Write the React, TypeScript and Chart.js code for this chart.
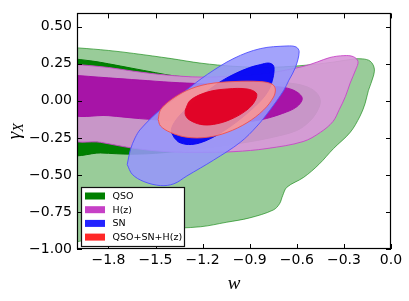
import React, { useEffect, useRef } from 'react';
import { Chart, registerables } from 'chart.js';

Chart.register(...registerables);

// Axis ticks
const X_TICKS = [-1.8, -1.5, -1.2, -0.9, -0.6, -0.3, 0.0];
const Y_TICKS = [-1.0, -0.75, -0.5, -0.25, 0.0, 0.25, 0.5];
const X_MIN = -2.0;
const X_MAX = 0.0;
const Y_MIN = -1.0;
const Y_MAX = 0.59;

// Legend
const LEGEND_LABELS = ['QSO', 'H(z)', 'SN', 'QSO+SN+H(z)'];
const LEGEND_COLORS = ['#008000', '#c640c6', '#2424ff', '#ff2828'];

// Contours: [w, gamma_X]
const QSO_2SIGMA: [number, number][] = [
  [-2.05, 0.36], [-1.99, 0.357], [-1.8, 0.34], [-1.64, 0.32], [-1.4, 0.285], [-1.21, 0.254],
  [-1.0, 0.233], [-0.79, 0.226], [-0.58, 0.237], [-0.37, 0.261], [-0.24, 0.282], [-0.18, 0.283],
  [-0.133, 0.268], [-0.107, 0.222], [-0.112, 0.167], [-0.144, 0.069], [-0.165, -0.018],
  [-0.197, -0.103], [-0.26, -0.213], [-0.366, -0.322], [-0.46, -0.43], [-0.557, -0.517],
  [-0.663, -0.583], [-0.69, -0.64], [-0.71, -0.695], [-0.75, -0.737], [-0.9, -0.79],
  [-1.05, -0.82], [-1.213, -0.85], [-1.47, -0.865], [-1.64, -0.887], [-1.85, -0.913], [-2.05, -0.925],
];
const QSO_1SIGMA: [number, number][] = [
  [-2.05, 0.287], [-1.9, 0.268], [-1.8, 0.25], [-1.65, 0.22], [-1.5, 0.19], [-1.38, 0.168],
  [-1.2, 0.152], [-1.0, 0.142], [-0.8, 0.132], [-0.65, 0.12], [-0.55, 0.1], [-0.48, 0.06],
  [-0.45, 0.0], [-0.47, -0.07], [-0.52, -0.14], [-0.6, -0.2], [-0.75, -0.245], [-0.95, -0.285],
  [-1.2, -0.32], [-1.45, -0.35], [-1.65, -0.36], [-1.85, -0.352], [-2.05, -0.345],
];
const HZ_2SIGMA: [number, number][] = [
  [-2.05, 0.25], [-1.8, 0.225], [-1.64, 0.2], [-1.43, 0.174], [-1.21, 0.16], [-1.0, 0.167],
  [-0.79, 0.185], [-0.56, 0.232], [-0.47, 0.262], [-0.39, 0.292], [-0.3, 0.305], [-0.24, 0.298],
  [-0.21, 0.265], [-0.225, 0.21], [-0.26, 0.12], [-0.29, 0.03], [-0.33, -0.06], [-0.37, -0.14],
  [-0.45, -0.213], [-0.56, -0.275], [-0.79, -0.322], [-1.0, -0.343], [-1.21, -0.348],
  [-1.43, -0.343], [-1.64, -0.32], [-1.85, -0.28], [-2.05, -0.245],
];
const HZ_1SIGMA: [number, number][] = [
  [-2.05, 0.175], [-1.8, 0.155], [-1.6, 0.14], [-1.4, 0.125], [-1.2, 0.115], [-1.0, 0.105],
  [-0.8, 0.098], [-0.68, 0.09], [-0.6, 0.06], [-0.565, 0.015], [-0.6, -0.04], [-0.69, -0.085],
  [-0.83, -0.128], [-1.0, -0.15], [-1.2, -0.15], [-1.4, -0.135], [-1.6, -0.12], [-1.8, -0.1],
  [-2.05, -0.08],
];
const SN_2SIGMA: [number, number][] = [
  [-1.68, -0.43], [-1.66, -0.33], [-1.63, -0.25], [-1.595, -0.191], [-1.47, -0.061],
  [-1.32, 0.059], [-1.17, 0.178], [-1.0, 0.287], [-0.833, 0.352], [-0.663, 0.37],
  [-0.604, 0.363], [-0.585, 0.33], [-0.61, 0.222], [-0.65, 0.14], [-0.684, 0.069],
  [-0.77, -0.061], [-0.853, -0.17], [-0.96, -0.28], [-1.13, -0.4], [-1.3, -0.507],
  [-1.383, -0.56], [-1.468, -0.572], [-1.574, -0.545], [-1.648, -0.496],
];
const SN_1SIGMA: [number, number][] = [
  [-1.38, -0.25], [-1.4, -0.2], [-1.37, -0.13], [-1.3, -0.05], [-1.2, 0.04], [-1.1, 0.12],
  [-1.0, 0.18], [-0.9, 0.225], [-0.83, 0.245], [-0.78, 0.255], [-0.75, 0.24], [-0.745, 0.2],
  [-0.755, 0.14], [-0.78, 0.07], [-0.83, 0.0], [-0.9, -0.07], [-0.98, -0.14], [-1.06, -0.2],
  [-1.14, -0.25], [-1.22, -0.285], [-1.29, -0.295], [-1.35, -0.28],
];
const ALL_2SIGMA: [number, number][] = [
  [-1.483, -0.126], [-1.468, -0.061], [-1.405, 0.004], [-1.3, 0.07], [-1.17, 0.113],
  [-1.0, 0.13], [-0.833, 0.13], [-0.758, 0.113], [-0.737, 0.08], [-0.748, 0.026],
  [-0.811, -0.061], [-0.917, -0.148], [-1.044, -0.213], [-1.17, -0.246], [-1.3, -0.246],
  [-1.405, -0.213], [-1.468, -0.17],
];
const ALL_1SIGMA: [number, number][] = [
  [-1.31, -0.061], [-1.278, 0.004], [-1.17, 0.059], [-1.044, 0.08], [-0.917, 0.08],
  [-0.858, 0.052], [-0.864, 0.004], [-0.917, -0.061], [-1.023, -0.126], [-1.13, -0.159],
  [-1.214, -0.159], [-1.288, -0.126], [-1.31, -0.093],
];

const fmt = (v: number, d: number) => (v < 0 ? '\u2212' : '') + Math.abs(v).toFixed(d);

const closed = (pts: [number, number][]) =>
  [...pts, pts[0]].map(([x, y]) => ({ x, y }));

const contour = (label: string, pts: [number, number][], fillC: string, lineC: string, order: number) => ({
  label,
  data: closed(pts),
  fill: 'shape',
  backgroundColor: fillC,
  borderColor: lineC,
  borderWidth: 1,
  pointRadius: 0,
  tension: 0.35,
  order,
});

const framePlugin = {
  id: 'frameTicksLegend',
  afterDatasetsDraw(chart: any) {
    const { ctx, chartArea: a, scales } = chart;
    ctx.save();
    ctx.strokeStyle = '#000';
    ctx.lineWidth = 1;
    ctx.beginPath();
    for (const v of X_TICKS) {
      const px = Math.round(scales.x.getPixelForValue(v)) + 0.5;
      ctx.moveTo(px, a.bottom);
      ctx.lineTo(px, a.bottom - 5);
      ctx.moveTo(px, a.top);
      ctx.lineTo(px, a.top + 5);
    }
    for (const v of Y_TICKS) {
      const py = Math.round(scales.y.getPixelForValue(v)) + 0.5;
      ctx.moveTo(a.left, py);
      ctx.lineTo(a.left + 5, py);
      ctx.moveTo(a.right, py);
      ctx.lineTo(a.right - 5, py);
    }
    ctx.stroke();
    ctx.lineWidth = 1.2;
    ctx.strokeRect(Math.round(a.left) + 0.5, Math.round(a.top) + 0.5, Math.round(a.right - a.left) - 1, Math.round(a.bottom - a.top) - 1);

    // Legend
    const lx = a.left + 4.5;
    const ly = a.bottom - 61.5;
    const lw = 103;
    const lh = 59;
    ctx.fillStyle = '#fff';
    ctx.fillRect(lx, ly, lw, lh);
    ctx.strokeStyle = '#111';
    ctx.lineWidth = 1.2;
    ctx.strokeRect(lx, ly, lw, lh);
    ctx.font = '9.5px "DejaVu Sans"';
    ctx.textBaseline = 'middle';
    ctx.textAlign = 'left';
    LEGEND_LABELS.forEach((lab, i) => {
      const cy = ly + 8.5 + i * 13.7;
      ctx.fillStyle = LEGEND_COLORS[i];
      ctx.fillRect(lx + 3.5, cy - 3.5, 20, 7);
      ctx.fillStyle = '#000';
      ctx.fillText(lab, lx + 31, cy + 0.5);
    });

    // y-axis title: gamma_X
    ctx.save();
    ctx.translate(0, (a.top + a.bottom) / 2);
    ctx.rotate(-Math.PI / 2);
    ctx.fillStyle = '#000';
    ctx.textBaseline = 'alphabetic';
    ctx.font = 'italic 19px "Liberation Serif"';
    const gw = ctx.measureText('\u03b3').width;
    ctx.font = 'italic 14px "Liberation Serif"';
    const xw = ctx.measureText('X').width;
    const start = -(gw + xw) / 2;
    ctx.font = 'italic 19px "Liberation Serif"';
    ctx.fillText('\u03b3', start, 20);
    ctx.font = 'italic 14px "Liberation Serif"';
    ctx.fillText('X', start + gw, 23);
    ctx.restore();

    ctx.restore();
  },
};

export default function App() {
  const ref = useRef<HTMLCanvasElement>(null);
  useEffect(() => {
    if (!ref.current) return;
    const chart = new Chart(ref.current, {
      type: 'line',
      data: {
        datasets: [
          contour('QSO 2σ', QSO_2SIGMA, 'rgba(0,128,0,0.4)', 'rgba(0,128,0,0.6)', 8),
          contour('QSO 1σ', QSO_1SIGMA, 'rgb(0,128,0)', 'rgb(0,120,0)', 7),
          contour('H(z) 2σ', HZ_2SIGMA, 'rgba(217,152,217,0.92)', 'rgba(200,70,200,0.9)', 6),
          contour('H(z) 1σ', HZ_1SIGMA, 'rgba(165,15,165,0.96)', 'rgba(165,15,165,0.96)', 5),
          contour('SN 2σ', SN_2SIGMA, 'rgba(150,150,250,0.88)', 'rgba(80,80,255,0.9)', 4),
          contour('SN 1σ', SN_1SIGMA, 'rgba(0,0,245,0.92)', 'rgba(0,0,245,0.92)', 3),
          contour('QSO+SN+H(z) 2σ', ALL_2SIGMA, 'rgba(254,150,145,0.87)', 'rgba(240,80,80,0.9)', 2),
          contour('QSO+SN+H(z) 1σ', ALL_1SIGMA, 'rgba(225,0,35,0.97)', 'rgba(225,0,35,0.97)', 1),
        ] as any,
      },
      options: {
        animation: false,
        responsive: false,
        layout: { padding: { top: 7, right: 18, left: 0, bottom: 0 } },
        plugins: { legend: { display: false }, tooltip: { enabled: false } },
        scales: {
          x: {
            type: 'linear',
            min: X_MIN,
            max: X_MAX,
            afterBuildTicks: (s: any) => { s.ticks = X_TICKS.map((v) => ({ value: v })); },
            afterFit: (s: any) => { s.height = 52; },
            grid: { display: false, drawTicks: false },
            border: { display: false },
            ticks: {
              autoSkip: false,
              maxRotation: 0,
              padding: 3,
              color: '#000',
              font: { family: 'DejaVu Sans', size: 14 },
              callback: (v: any) => fmt(Number(v), 1),
            },
            title: {
              display: true,
              text: 'w',
              color: '#000',
              font: { family: 'Liberation Serif', style: 'italic', size: 19 },
              padding: { top: 0, bottom: 6 },
            },
          },
          y: {
            type: 'linear',
            min: Y_MIN,
            max: Y_MAX,
            afterBuildTicks: (s: any) => { s.ticks = Y_TICKS.map((v) => ({ value: v })); },
            afterFit: (s: any) => { s.width = 77; },
            grid: { display: false, drawTicks: false },
            border: { display: false },
            ticks: {
              autoSkip: false,
              padding: 5,
              color: '#000',
              font: { family: 'DejaVu Sans', size: 14 },
              callback: (v: any) => fmt(Number(v), 2),
            },
          },
        },
      },
      plugins: [framePlugin],
    });
    return () => chart.destroy();
  }, []);
  return (
    <canvas
      ref={ref}
      width={409}
      height={301}
      style={{ position: 'absolute', left: 0, top: 0, width: 409, height: 301 }}
    />
  );
}
